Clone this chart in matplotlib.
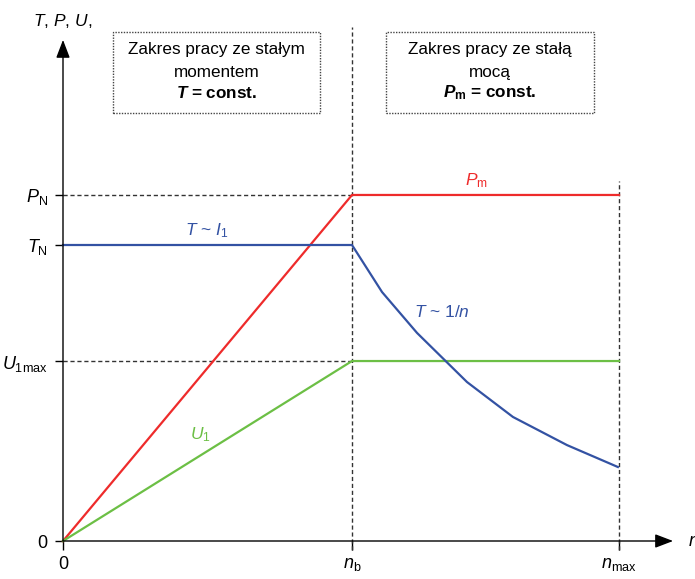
import numpy as np
import matplotlib
matplotlib.use("Agg")
import matplotlib.pyplot as plt
from matplotlib.patches import Rectangle

plt.rcParams["font.family"] = ["Liberation Sans", "DejaVu Sans"]
plt.rcParams["mathtext.fontset"] = "custom"
plt.rcParams["mathtext.rm"] = "Liberation Sans"
plt.rcParams["mathtext.it"] = "Liberation Sans:italic"
plt.rcParams["mathtext.bf"] = "Liberation Sans:bold"
try:
    plt.rcParams["mathtext.bfit"] = "Liberation Sans:italic:bold"
except KeyError:
    pass

# speed in units of n_b, levels in units of T_N
n_b = 1.0
n_max = 1.924
P_N = 1.169
T_N = 1.0
U_1max = 0.608

# power curve P_m
p_n = [0.0, n_b, n_max]
p_val = [0.0, P_N, P_N]

# voltage U_1
u_n = [0.0, n_b, n_max]
u_val = [0.0, U_1max, U_1max]

# torque: constant then ~1/n
t_n = [0.0, 1.0, 1.104, 1.225, 1.398, 1.557, 1.744, 1.92]
t_val = [T_N, T_N, 0.841, 0.703, 0.537, 0.419, 0.324, 0.250]

y_ticks = [0.0, U_1max, T_N, P_N]
y_labels = ["0", r"$U_{\mathrm{1max}}$", r"$T_{\mathrm{N}}$", r"$P_{\mathrm{N}}$"]
x_ticks = [0.0, n_b, n_max]
x_labels = ["0", r"$n_{\mathrm{b}}$", r"$n_{\mathrm{max}}$"]

RED = "#ee2b2b"
BLUE = "#3352a3"
GREEN = "#6cbf45"

fig = plt.figure(figsize=(6.95, 5.79), dpi=100)
ax = fig.add_axes([0, 0, 1, 1])
# map pixel frame: origin at (63, 541), n_b at 289 px, T_N at 296 px
ax.set_xlim(-63 / 289, (695 - 63) / 289)
ax.set_ylim(-(579 - 541) / 296, 541 / 296)

for side in ["top", "right", "left", "bottom"]:
    ax.spines[side].set_visible(False)
ax.spines["left"].set_position(("data", 0))
ax.spines["bottom"].set_position(("data", 0))

ax.set_yticks(y_ticks)
ax.set_yticklabels(y_labels)
ax.set_xticks(x_ticks)
ax.set_xticklabels(x_labels)
ax.tick_params(axis="y", direction="out", length=6, width=1, pad=5, labelsize=13)
ax.tick_params(axis="x", direction="out", length=6.5, width=1, pad=4, labelsize=13)

# axes with arrows
arrow = dict(arrowstyle="-|>,head_length=1.1,head_width=0.42", color="black",
             lw=1, mutation_scale=10, shrinkA=0, shrinkB=0)
ax.annotate("", xy=(0, 1.693), xytext=(0, 0), arrowprops=arrow)
ax.annotate("", xy=(2.111, 0), xytext=(0, 0), arrowprops=arrow)

# guide lines
dash = dict(color="#333333", lw=1, linestyle=(0, (3, 2)))
ax.plot([0, n_b], [P_N, P_N], **dash)
ax.plot([0, n_b], [U_1max, U_1max], **dash)
ax.plot([n_b, n_b], [-0.03, 1.735], **dash)
ax.plot([n_max, n_max], [-0.03, 1.216], **dash)

# curves
ax.plot(p_n, p_val, color=RED, lw=1.6)
ax.plot(u_n, u_val, color=GREEN, lw=1.6)
ax.plot(t_n, t_val, color=BLUE, lw=1.6)

# curve labels
ax.text(0.498, 1.05, r"$T$ ~ $I_{1}$", color=BLUE, fontsize=12.5, ha="center", va="center")
ax.text(1.432, 1.216, r"$P_{\mathrm{m}}$", color=RED, fontsize=12.5, ha="center", va="center")
ax.text(1.31, 0.774, r"$T$ ~ 1/$n$", color=BLUE, fontsize=12.5, ha="center", va="center")
ax.text(0.474, 0.36, r"$U_{1}$", color=GREEN, fontsize=12.5, ha="center", va="center")

# axis titles
ax.text(0.0, 1.757, r"$T$, $P$, $U$,", fontsize=12.5, ha="center", va="center")
ax.text(2.163, 0.0, r"$n$", fontsize=13, ha="left", va="center")

# region boxes
box = dict(fill=False, edgecolor="#444444", lw=1, linestyle=(0, (1, 1)))
ax.add_patch(Rectangle((0.173, 1.446), 0.716, 0.274, **box))
ax.add_patch(Rectangle((1.118, 1.446), 0.719, 0.274, **box))

fs_box = 12.3
ax.text(0.531, 1.659, "Zakres pracy ze stałym", fontsize=fs_box, ha="center", va="center")
ax.text(0.531, 1.584, "momentem", fontsize=fs_box, ha="center", va="center")
ax.text(0.531, 1.515, r"$\mathbfit{T}$ = const.", fontsize=fs_box, fontweight="bold",
        ha="center", va="center")
ax.text(1.477, 1.659, "Zakres pracy ze stałą", fontsize=fs_box, ha="center", va="center")
ax.text(1.477, 1.584, "mocą", fontsize=fs_box, ha="center", va="center")
ax.text(1.477, 1.515, r"$\mathbfit{P}_{\mathbf{m}}$ = const.", fontsize=fs_box,
        fontweight="bold", ha="center", va="center")

plt.savefig("out.png", dpi=100)
